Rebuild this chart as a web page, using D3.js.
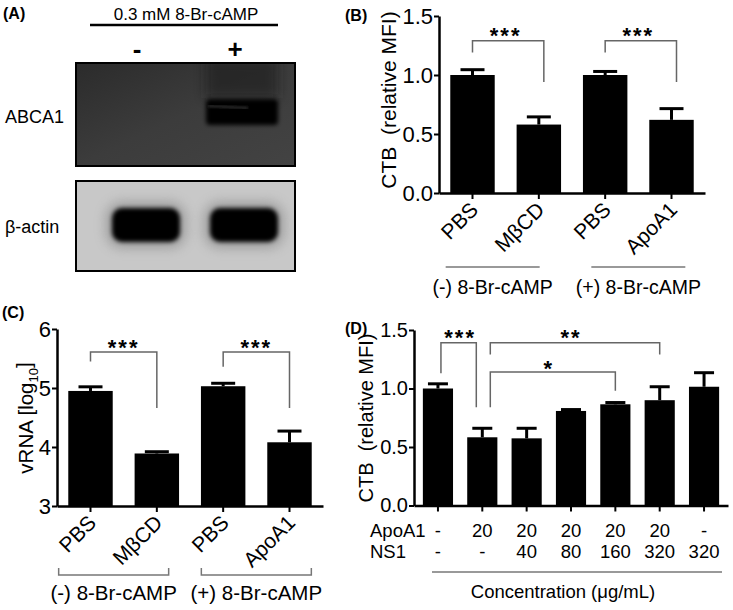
<!DOCTYPE html>
<meta charset="utf-8">
<style>
body { margin: 0; background: #fff; }
svg { font-family: "Liberation Sans", Arial, sans-serif; }
.axis path, .axis line { stroke: #000; }
.axis text { fill: #000; }
.bracket { fill: none; stroke: #666; stroke-width: 1.5; }
.tag { font-weight: bold; font-size: 16px; }
</style>
<body>
<script src="https://d3js.org/d3.v7.min.js"></script>
<script>
// ---- data ----
// (A) western blot, relative band intensity per lane
var blotLanes = ["-", "+"];
var abcaSignal = [0.0, 1.0];
var actinSignal = [1.0, 1.0];

// (B) CTB relative MFI
var bCats = ["PBS", "M\u03b2CD", "PBS", "ApoA1"];
var bMeans = [1.0, 0.58, 1.0, 0.62];
var bErrs = [0.045, 0.065, 0.03, 0.095];
var bTicks = [0, 0.5, 1.0, 1.5];
var bGroups = ["(-) 8-Br-cAMP", "(+) 8-Br-cAMP"];
// [from, to, label, top, left leg end, right leg end, star level]
var bSig = [[0, 1, "***", 1.29, 1.19, 0.94, 1.38], [2, 3, "***", 1.29, 1.19, 0.94, 1.38]];

// (C) vRNA log10
var cCats = ["PBS", "M\u03b2CD", "PBS", "ApoA1"];
var cMeans = [4.95, 3.89, 5.03, 4.08];
var cErrs = [0.07, 0.03, 0.05, 0.19];
var cTicks = [3, 4, 5, 6];
var cGroups = ["(-) 8-Br-cAMP", "(+) 8-Br-cAMP"];
var cSig = [[0, 1, "***", 5.61, 5.45, 4.66, 5.78], [2, 3, "***", 5.61, 5.36, 4.66, 5.78]];

// (D) CTB relative MFI vs concentration
var dApoA1 = ["-", "20", "20", "20", "20", "20", "-"];
var dNS1 = ["-", "-", "40", "80", "160", "320", "320"];
var dMeans = [1.0, 0.583, 0.574, 0.808, 0.865, 0.90, 1.015];
var dErrs = [0.04, 0.077, 0.086, 0.012, 0.015, 0.115, 0.12];
var dTicks = [0, 0.5, 1.0, 1.5];
var dSig = [[0, 1, "***", 1.39, 1.13, 0.84, 1.48], [1, 5, "**", 1.39, 1.29, 1.29, 1.48], [1, 4, "*", 1.14, 0.84, 0.98, 1.22]];

var W = 733, H = 610;
var svg = d3.select("body").append("svg").attr("width", W).attr("height", H);
svg.append("rect").attr("width", W).attr("height", H).attr("fill", "#fff");

var defs = svg.append("defs");
[["blur1", 1.2], ["blur2", 2], ["blur4", 4], ["blur6", 6]].forEach(function(f) {
  defs.append("filter").attr("id", f[0]).attr("x", "-50%").attr("y", "-50%").attr("width", "200%").attr("height", "200%")
    .append("feGaussianBlur").attr("stdDeviation", f[1]);
});
var grad = defs.append("linearGradient").attr("id", "darkGrad").attr("x1", 0).attr("y1", 0).attr("x2", 1).attr("y2", 1);
grad.append("stop").attr("offset", "0%").attr("stop-color", "#2b2b2b");
grad.append("stop").attr("offset", "50%").attr("stop-color", "#3c3c3c");
grad.append("stop").attr("offset", "100%").attr("stop-color", "#434343");

// ---------- helpers ----------
function yAxis(g, x0, y, ticks, fmt, fs) {
  var ax = g.append("g").attr("class", "axis")
    .attr("transform", "translate(" + x0 + ",0)")
    .call(d3.axisLeft(y).tickValues(ticks).tickFormat(fmt).tickSize(5).tickSizeOuter(0).tickPadding(1));
  ax.attr("font-family", null).attr("font-size", fs);
  ax.select(".domain").attr("stroke-width", 2.5);
  ax.selectAll(".tick line").attr("stroke-width", 2);
}

function xAxis(g, x, yb) {
  var ax = g.append("g").attr("class", "axis")
    .attr("transform", "translate(0," + yb + ")")
    .call(d3.axisBottom(x).tickSize(6).tickSizeOuter(0).tickFormat(""));
  ax.select(".domain").attr("stroke-width", 2.5);
  ax.selectAll(".tick line").attr("stroke-width", 2);
}

function drawBars(g, x, y, means, errs, base, capW) {
  var bw = x.bandwidth();
  g.append("g").selectAll("rect").data(means).enter().append("rect")
    .attr("x", function(d, i) { return x(i); })
    .attr("width", bw)
    .attr("y", function(d) { return y(d); })
    .attr("height", function(d) { return y(base) - y(d); })
    .attr("fill", "#000");
  var eb = g.append("g").attr("stroke", "#000").attr("stroke-width", 3);
  eb.selectAll(".v").data(means).enter().append("line")
    .attr("x1", function(d, i) { return x(i) + bw / 2; })
    .attr("x2", function(d, i) { return x(i) + bw / 2; })
    .attr("y1", function(d) { return y(d); })
    .attr("y2", function(d, i) { return y(d + errs[i]); });
  eb.selectAll(".c").data(means).enter().append("line")
    .attr("x1", function(d, i) { return x(i) + bw / 2 - capW / 2; })
    .attr("x2", function(d, i) { return x(i) + bw / 2 + capW / 2; })
    .attr("y1", function(d, i) { return y(d + errs[i]); })
    .attr("y2", function(d, i) { return y(d + errs[i]); });
}

function drawSig(g, x, y, sig, starSize, shiftL, shiftR) {
  var c = function(i) { return x(i) + x.bandwidth() / 2; };
  sig.forEach(function(s) {
    var xl = c(s[0]) + (shiftL ? shiftL(s) : 0);
    var xr = c(s[1]) + (shiftR ? shiftR(s) : 0);
    g.append("path").attr("class", "bracket")
      .attr("d", "M" + xl + "," + y(s[4]) + "V" + y(s[3]) + "H" + xr + "V" + y(s[5]));
    g.append("text")
      .attr("x", (c(s[0]) + c(s[1])) / 2)
      .attr("y", y(s[6]) + starSize * 0.58)
      .attr("text-anchor", "middle")
      .attr("font-size", starSize)
      .attr("font-weight", "bold")
      .attr("letter-spacing", 2)
      .text(s[2]);
  });
}

function rotLabels(g, x, yb, cats, fs) {
  g.append("g").selectAll("text").data(cats).enter().append("text")
    .attr("transform", function(d, i) {
      return "translate(" + (x(i) + x.bandwidth() / 2 + 7) + "," + (yb + 18) + ") rotate(-45)";
    })
    .attr("text-anchor", "end")
    .attr("font-size", fs)
    .text(function(d) { return d; });
}

function yLabel(g, cx, cy, fs, txt) {
  return g.append("text")
    .attr("transform", "translate(" + cx + "," + cy + ") rotate(-90)")
    .attr("text-anchor", "middle")
    .attr("dy", "0.35em")
    .attr("font-size", fs)
    .text(txt);
}

// ---------- (A) western blot ----------
var gA = svg.append("g");
gA.append("text").attr("class", "tag").attr("x", 3).attr("y", 19).text("(A)");
gA.append("text").attr("x", 186).attr("y", 20).attr("text-anchor", "middle").attr("font-size", 17).text("0.3 mM 8-Br-cAMP");
gA.append("line").attr("x1", 90).attr("x2", 278).attr("y1", 25).attr("y2", 25).attr("stroke", "#000").attr("stroke-width", 2.5);

var lane = d3.scalePoint().domain(blotLanes).range([146, 244]);
gA.selectAll(".lanelab").data(blotLanes).enter().append("text")
  .attr("x", function(d) { return lane(d) - 9; })
  .attr("y", 58)
  .attr("text-anchor", "middle")
  .attr("font-size", 26)
  .attr("font-weight", "bold")
  .text(function(d) { return d; });

gA.append("text").attr("x", 5).attr("y", 123).attr("font-size", 18).text("ABCA1");
gA.append("text").attr("x", 5).attr("y", 233).attr("font-size", 18).text("\u03b2-actin");

defs.append("clipPath").attr("id", "clip1").append("rect").attr("x", 76).attr("y", 63).attr("width", 219).attr("height", 103);
defs.append("clipPath").attr("id", "clip2").append("rect").attr("x", 76).attr("y", 181).attr("width", 219).attr("height", 90);

var blot1 = gA.append("g").attr("clip-path", "url(#clip1)");
blot1.append("rect").attr("x", 76).attr("y", 63).attr("width", 219).attr("height", 103).attr("fill", "url(#darkGrad)");
blot1.selectAll(".smear").data(abcaSignal).enter().append("rect")
  .attr("x", function(d, i) { return lane(blotLanes[i]) - 38; })
  .attr("y", 58).attr("width", 72).attr("height", 40)
  .attr("fill", "#1e1e1e").attr("opacity", function(d) { return d * 0.6; })
  .attr("filter", "url(#blur6)");
blot1.selectAll(".band").data(abcaSignal).enter().append("rect")
  .attr("x", function(d, i) { return lane(blotLanes[i]) - 38; })
  .attr("y", 99).attr("width", 72).attr("height", 26).attr("rx", 4)
  .attr("fill", "#050505").attr("opacity", function(d) { return d; })
  .attr("filter", "url(#blur2)");
blot1.selectAll(".gap").data(abcaSignal).enter().append("line")
  .attr("x1", function(d, i) { return lane(blotLanes[i]) - 36; })
  .attr("x2", function(d, i) { return lane(blotLanes[i]) + 4; })
  .attr("y1", 106).attr("y2", 108)
  .attr("stroke", "#2a2a2a").attr("stroke-width", 2.5)
  .attr("opacity", function(d) { return d; })
  .attr("filter", "url(#blur1)");
gA.append("rect").attr("x", 76).attr("y", 63).attr("width", 219).attr("height", 103)
  .attr("fill", "none").attr("stroke", "#000").attr("stroke-width", 2);

var blot2 = gA.append("g").attr("clip-path", "url(#clip2)");
blot2.append("rect").attr("x", 76).attr("y", 181).attr("width", 219).attr("height", 90).attr("fill", "#c8c8c8");
blot2.selectAll(".halo").data(actinSignal).enter().append("rect")
  .attr("x", function(d, i) { return lane(blotLanes[i]) - 40; })
  .attr("y", 202).attr("width", 80).attr("height", 46).attr("rx", 16)
  .attr("fill", "#8a8a8a").attr("opacity", function(d) { return d * 0.7; })
  .attr("filter", "url(#blur6)");
blot2.selectAll(".band").data(actinSignal).enter().append("rect")
  .attr("x", function(d, i) { return lane(blotLanes[i]) - 34; })
  .attr("y", 208).attr("width", 68).attr("height", 34).attr("rx", 10)
  .attr("fill", "#000").attr("opacity", function(d) { return d; })
  .attr("filter", "url(#blur2)");
gA.append("rect").attr("x", 76).attr("y", 181).attr("width", 219).attr("height", 90)
  .attr("fill", "none").attr("stroke", "#000").attr("stroke-width", 2);

// ---------- (B) ----------
var gB = svg.append("g");
gB.append("text").attr("class", "tag").attr("x", 345).attr("y", 21).text("(B)");
var xB = d3.scaleBand().domain(d3.range(bCats.length)).range([439, 705]).paddingInner(0.33).paddingOuter(0.17);
var yB = d3.scaleLinear().domain([0, 1.5]).range([193, 16]);
drawBars(gB, xB, yB, bMeans, bErrs, 0, 24);
yAxis(gB, 439, yB, bTicks, d3.format(".1f"), 22);
xAxis(gB, xB, yB(0));
drawSig(gB, xB, yB, bSig, 22, null, function() { return 5; });
rotLabels(gB, xB, yB(0), bCats, 21);
yLabel(gB, 389, 100, 21, "CTB\u00a0\u00a0(relative MFI)");
[[0, 1, -13], [2, 3, 0]].forEach(function(p, k) {
  var cx = (xB(p[0]) + xB(p[1]) + xB.bandwidth()) / 2 + p[2];
  gB.append("line").attr("x1", cx - 47).attr("x2", cx + 47).attr("y1", 267).attr("y2", 267)
    .attr("stroke", "#777").attr("stroke-width", 1.5);
  gB.append("text").attr("x", cx).attr("y", 294).attr("text-anchor", "middle").attr("font-size", 19.5).text(bGroups[k]);
});

// ---------- (C) ----------
var gC = svg.append("g");
gC.append("text").attr("class", "tag").attr("x", 2).attr("y", 318).text("(C)");
var xC = d3.scaleBand().domain(d3.range(cCats.length)).range([57, 323]).paddingInner(0.33).paddingOuter(0.17);
var yC = d3.scaleLinear().domain([3, 6]).range([506, 329]);
drawBars(gC, xC, yC, cMeans, cErrs, 3, 24);
yAxis(gC, 57, yC, cTicks, d3.format("d"), 22);
xAxis(gC, xC, yC(3));
drawSig(gC, xC, yC, cSig, 22);
rotLabels(gC, xC, yC(3), cCats, 21);
var cl = yLabel(gC, 26, 418, 20.5, "vRNA [log");
cl.append("tspan").attr("font-size", 13).attr("dy", "0.35em").text("10");
cl.append("tspan").attr("dy", "-0.35em").text("]");
[[0, 1, -10], [2, 3, 0]].forEach(function(p, k) {
  var cx = (xC(p[0]) + xC(p[1]) + xC.bandwidth()) / 2 + p[2];
  gC.append("path").attr("d", "M" + (cx - 55) + ",568V575H" + (cx + 55) + "V568")
    .attr("fill", "none").attr("stroke", "#777").attr("stroke-width", 1.5);
  gC.append("text").attr("x", cx).attr("y", 600).attr("text-anchor", "middle").attr("font-size", 20.5).text(cGroups[k]);
});

// ---------- (D) ----------
var gD = svg.append("g");
gD.append("text").attr("class", "tag").attr("x", 345).attr("y", 334).text("(D)");
var xD = d3.scaleBand().domain(d3.range(dMeans.length)).range([414, 728]).paddingInner(0.32).paddingOuter(0.2);
var yD = d3.scaleLinear().domain([0, 1.5]).range([505.5, 330]);
drawBars(gD, xD, yD, dMeans, dErrs, 0, 20);
yAxis(gD, 414, yD, dTicks, d3.format(".1f"), 20);
xAxis(gD, xD, yD(0));
drawSig(gD, xD, yD, dSig, 22,
  function(s) { return s[0] === 1 ? 8 : 3; },
  function(s) { return s[1] === 1 ? -6 : 0; });
yLabel(gD, 366, 418, 20, "CTB\u00a0\u00a0(relative MFI)");
gD.append("text").attr("x", 370).attr("y", 537).attr("font-size", 18.5).text("ApoA1");
gD.append("text").attr("x", 370).attr("y", 558).attr("font-size", 18.5).text("NS1");
gD.append("g").selectAll("text").data(dApoA1).enter().append("text")
  .attr("x", function(d, i) { return xD(i) + xD.bandwidth() / 2; })
  .attr("y", 537).attr("text-anchor", "middle").attr("font-size", 18.5)
  .text(function(d) { return d; });
gD.append("g").selectAll("text").data(dNS1).enter().append("text")
  .attr("x", function(d, i) { return xD(i) + xD.bandwidth() / 2; })
  .attr("y", 558).attr("text-anchor", "middle").attr("font-size", 18.5)
  .text(function(d) { return d; });
gD.append("line").attr("x1", 432).attr("x2", 722).attr("y1", 572).attr("y2", 572)
  .attr("stroke", "#777").attr("stroke-width", 1.5);
gD.append("text").attr("x", 563).attr("y", 598).attr("text-anchor", "middle").attr("font-size", 18.5)
  .text("Concentration (\u03bcg/mL)");
</script>
</body>
